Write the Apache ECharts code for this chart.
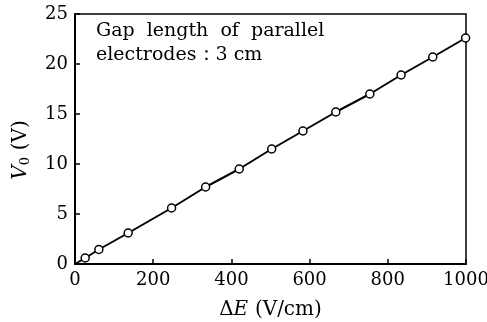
<!DOCTYPE html>
<html>
<head>
<meta charset="utf-8">
<script src="https://cdn.jsdelivr.net/npm/echarts@6/dist/echarts.min.js"></script>
<style>
    html, body { margin: 0; padding: 0; background: #fff; }
    #chart { width: 487px; height: 322px; }
</style>
</head>
<body>
<div id="chart"></div>
<script>
// 数据
var fieldE = [0, 26, 61, 136, 247, 334, 420, 503, 583, 667, 754, 834, 915, 999];
var voltV0 = [0, 0.6, 1.45, 3.1, 5.6, 7.7, 9.5, 11.5, 13.3, 15.2, 17.0, 18.9, 20.7, 22.6];
var xTicks = [0, 200, 400, 600, 800, 1000];
var yTicks = [0, 5, 10, 15, 20, 25];

(function () {
    var myChart = echarts.init(document.getElementById("chart"));
    var font = "'DejaVu Serif', 'Liberation Serif', serif";
    var points = fieldE.map(function (x, i) {
        return {
            value: [x, voltV0[i]],
            symbolSize: i === 0 ? 0 : 8   // 原点不画圆圈
        };
    });
    var nameRich = {
        d: { fontFamily: font, fontSize: 20, color: "#000" },
        i: { fontFamily: font, fontSize: 20, fontStyle: 'italic', color: "#000" },
        s: { fontFamily: font, fontSize: 13, color: "#000", verticalAlign: 'bottom', padding: [9, 0, 0, 0] }
    };
    var option = {
        animation: false,
        backgroundColor: "#fff",
        grid: {
            left: 75,
            right: 21,
            top: 14,
            bottom: 58,
            outerBoundsMode: 'none',
            show: true,
            borderColor: "#000",
            borderWidth: 1.5
        },
        xAxis: {
            type: 'value',
            min: xTicks[0],
            max: xTicks[xTicks.length - 1],
            interval: 200,
            axisLine: { lineStyle: { color: "#000", width: 2 } },
            axisTick: { inside: true, length: 5, lineStyle: { color: "#000", width: 1.5 } },
            splitLine: { show: false },
            axisLabel: {
                color: "#000",
                fontFamily: font,
                fontSize: 18,
                margin: 7,
                formatter: function (v) { return String(v); }
            },
            name: "{d|Δ}{i|E}  {d|(V/cm)}",
            nameLocation: 'middle',
            nameGap: 36,
            nameTextStyle: { rich: nameRich }
        },
        yAxis: {
            type: 'value',
            min: yTicks[0],
            max: yTicks[yTicks.length - 1],
            interval: 5,
            axisLine: { lineStyle: { color: "#000", width: 2 } },
            axisTick: { inside: true, length: 5, lineStyle: { color: "#000", width: 1.5 } },
            splitLine: { show: false },
            axisLabel: {
                color: "#000",
                fontFamily: font,
                fontSize: 18,
                margin: 7
            }
        },
        graphic: [
            {
                type: 'text',
                left: 96,
                top: 19,
                style: {
                    text: "Gap  length  of  parallel\nelectrodes\uFF1A3 cm",
                    fontFamily: font,
                    fontSize: 19,
                    lineHeight: 24,
                    fill: "#000"
                }
            },
            {
                // y轴名称，竖排
                type: 'text',
                x: 21,
                y: 150,
                rotation: Math.PI / 2,
                style: {
                    text: "{i|V}{s|0}  {d|(V)}",
                    rich: nameRich,
                    align: 'center',
                    verticalAlign: 'middle'
                }
            }
        ],
        series: [
            {
                type: 'line',
                data: points,
                symbol: 'circle',
                itemStyle: { color: "#fff", borderColor: "#000", borderWidth: 1.5 },
                lineStyle: { color: "#000", width: 2 },
                z: 3
            }
        ]
    };
    myChart.setOption(option);
    window.addEventListener("resize", function () {
        myChart.resize();
    })
})();
</script>
</body>
</html>
